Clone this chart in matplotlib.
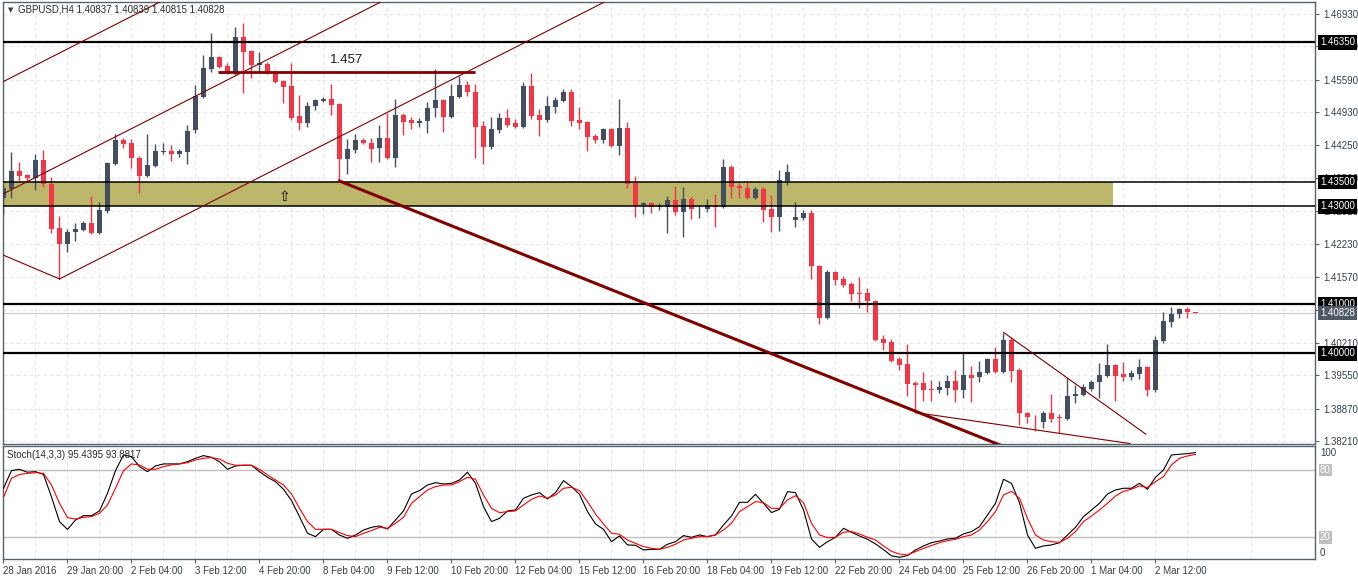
import matplotlib
matplotlib.use('Agg')
import matplotlib.pyplot as plt
import matplotlib.transforms as mtransforms
import numpy as np

plt.rcParams['font.family'] = ['Liberation Sans', 'DejaVu Sans']

# GBPUSD H4 candles, 28 Jan 2016 12:00 .. 2 Mar 2016
opens = [1.4317, 1.4336, 1.4372, 1.4364, 1.4358, 1.4395, 1.4346, 1.4256, 1.4223, 1.4248,
         1.4252, 1.4266, 1.4246, 1.4291, 1.4387, 1.4436, 1.4430, 1.4399, 1.4362, 1.4383,
         1.4412, 1.4413, 1.4407, 1.4411, 1.4456, 1.4524, 1.4581, 1.4605, 1.4587, 1.4573,
         1.4646, 1.4617, 1.4589, 1.4591, 1.4575, 1.4556, 1.4546, 1.4485, 1.4470, 1.4505,
         1.4515, 1.4519, 1.4509, 1.4397, 1.4415, 1.4436, 1.4430, 1.4419, 1.4440, 1.4399,
         1.4487, 1.4477, 1.4470, 1.4475, 1.4501, 1.4517, 1.4483, 1.4524, 1.4548, 1.4534,
         1.4464, 1.4421, 1.4456, 1.4481, 1.4470, 1.4462, 1.4546, 1.4487, 1.4477, 1.4503,
         1.4515, 1.4534, 1.4477, 1.4472, 1.4444, 1.4436, 1.4458, 1.4424, 1.4460, 1.4348,
         1.4303, 1.4307, 1.4299, 1.4299, 1.4313, 1.4289, 1.4315, 1.4294, 1.4295, 1.4303,
         1.4299, 1.4381, 1.4342, 1.4338, 1.4317, 1.4336, 1.4295, 1.4278, 1.4352, 1.4272,
         1.4276, 1.4287, 1.4178, 1.4072, 1.4166, 1.4152, 1.4142, 1.4123, 1.4123, 1.4107,
         1.4029, 1.4023, 1.3988, 1.3978, 1.3939, 1.3939, 1.3927, 1.3925, 1.3929, 1.3944,
         1.3925, 1.3956, 1.3952, 1.3960, 1.3988, 1.3962, 1.4027, 1.3966, 1.3878, 1.3860,
         1.3860, 1.3878, 1.3870, 1.3866, 1.3913, 1.3915, 1.3927, 1.3942, 1.3954, 1.3976,
         1.3958, 1.3952, 1.3958, 1.3972, 1.3925, 1.4025, 1.4064, 1.4080, 1.4091, 1.40837]
highs = [1.4344, 1.4411, 1.4391, 1.4366, 1.4407, 1.4415, 1.4360, 1.4280, 1.4254, 1.4266,
         1.4270, 1.4321, 1.4309, 1.4391, 1.4448, 1.4440, 1.4438, 1.4403, 1.4448, 1.4428,
         1.4430, 1.4426, 1.4417, 1.4466, 1.4548, 1.4609, 1.4654, 1.4607, 1.4593, 1.4666,
         1.4675, 1.4620, 1.4615, 1.4595, 1.4579, 1.4558, 1.4593, 1.4528, 1.4513, 1.4519,
         1.4524, 1.4550, 1.4511, 1.4438, 1.4448, 1.4440, 1.4440, 1.4466, 1.4491, 1.4519,
         1.4491, 1.4483, 1.4481, 1.4513, 1.4581, 1.4519, 1.4550, 1.4566, 1.4556, 1.4550,
         1.4475, 1.4483, 1.4491, 1.4499, 1.4479, 1.4554, 1.4573, 1.4499, 1.4526, 1.4524,
         1.4540, 1.4540, 1.4503, 1.4475, 1.4448, 1.4460, 1.4460, 1.4519, 1.4472, 1.4362,
         1.4309, 1.4309, 1.4307, 1.4321, 1.4342, 1.4340, 1.4319, 1.4303, 1.4315, 1.4325,
         1.4397, 1.4385, 1.4348, 1.4350, 1.4340, 1.4340, 1.4323, 1.4374, 1.4387, 1.4309,
         1.4293, 1.4293, 1.4180, 1.4170, 1.4168, 1.4158, 1.4146, 1.4156, 1.4134, 1.4109,
         1.4037, 1.4029, 1.3993, 1.4019, 1.3944, 1.3962, 1.3946, 1.3944, 1.3956, 1.3966,
         1.4001, 1.3974, 1.3984, 1.3991, 1.4013, 1.4042, 1.4033, 1.3970, 1.3880, 1.3874,
         1.3882, 1.3917, 1.3876, 1.3950, 1.3935, 1.3937, 1.3946, 1.3980, 1.4019, 1.3978,
         1.3982, 1.3966, 1.3989, 1.3974, 1.4036, 1.4084, 1.4095, 1.4093, 1.4095, 1.40839]
lows = [1.4283, 1.4317, 1.4352, 1.4352, 1.4334, 1.4340, 1.4246, 1.4152, 1.4207, 1.4229,
        1.4250, 1.4244, 1.4244, 1.4287, 1.4385, 1.4419, 1.4379, 1.4328, 1.4360, 1.4381,
        1.4407, 1.4393, 1.4401, 1.4387, 1.4450, 1.4522, 1.4575, 1.4583, 1.4571, 1.4568,
        1.4532, 1.4562, 1.4575, 1.4571, 1.4552, 1.4511, 1.4477, 1.4456, 1.4462, 1.4497,
        1.4513, 1.4487, 1.4352, 1.4366, 1.4409, 1.4428, 1.4391, 1.4391, 1.4397, 1.4381,
        1.4446, 1.4458, 1.4462, 1.4450, 1.4483, 1.4452, 1.4481, 1.4522, 1.4526, 1.4399,
        1.4387, 1.4417, 1.4450, 1.4462, 1.4460, 1.4460, 1.4479, 1.4444, 1.4472, 1.4491,
        1.4513, 1.4464, 1.4458, 1.4413, 1.4430, 1.4430, 1.4421, 1.4405, 1.4338, 1.4278,
        1.4285, 1.4287, 1.4293, 1.4246, 1.4283, 1.4238, 1.4274, 1.4276, 1.4289, 1.4258,
        1.4297, 1.4317, 1.4317, 1.4315, 1.4315, 1.4268, 1.4248, 1.4250, 1.4344, 1.4258,
        1.4272, 1.4152, 1.4060, 1.4070, 1.4140, 1.4136, 1.4107, 1.4093, 1.4085, 1.4025,
        1.4007, 1.3982, 1.3966, 1.3913, 1.3878, 1.3903, 1.3903, 1.3919, 1.3915, 1.3901,
        1.3909, 1.3901, 1.3942, 1.3958, 1.3960, 1.3960, 1.3942, 1.3854, 1.3858, 1.3842,
        1.3848, 1.3860, 1.3837, 1.3864, 1.3899, 1.3913, 1.3923, 1.3909, 1.3952, 1.3903,
        1.3944, 1.3946, 1.3948, 1.3913, 1.3921, 1.4021, 1.4054, 1.4072, 1.4072, 1.40815]
closes = [1.4338, 1.4372, 1.4362, 1.4358, 1.4395, 1.4346, 1.4254, 1.4223, 1.4248, 1.4254,
          1.4266, 1.4246, 1.4293, 1.4389, 1.4436, 1.4428, 1.4399, 1.4362, 1.4385, 1.4413,
          1.4413, 1.4407, 1.4413, 1.4454, 1.4526, 1.4583, 1.4605, 1.4585, 1.4573, 1.4646,
          1.4615, 1.4589, 1.4593, 1.4573, 1.4554, 1.4544, 1.4481, 1.4470, 1.4505, 1.4517,
          1.4519, 1.4507, 1.4397, 1.4417, 1.4436, 1.4430, 1.4417, 1.4440, 1.4399, 1.4487,
          1.4472, 1.4470, 1.4475, 1.4501, 1.4517, 1.4483, 1.4526, 1.4548, 1.4534, 1.4462,
          1.4421, 1.4458, 1.4481, 1.4466, 1.4462, 1.4546, 1.4485, 1.4477, 1.4505, 1.4517,
          1.4534, 1.4475, 1.4470, 1.4442, 1.4436, 1.4458, 1.4424, 1.4460, 1.4346, 1.4303,
          1.4307, 1.4299, 1.4301, 1.4313, 1.4289, 1.4315, 1.4295, 1.4295, 1.4303, 1.4299,
          1.4381, 1.4340, 1.4338, 1.4317, 1.4336, 1.4293, 1.4278, 1.4354, 1.4370, 1.4278,
          1.4287, 1.4178, 1.4072, 1.4166, 1.4150, 1.4140, 1.4121, 1.4122, 1.4107, 1.4027,
          1.4021, 1.3984, 1.3976, 1.3937, 1.3935, 1.3925, 1.3925, 1.3931, 1.3944, 1.3925,
          1.3956, 1.3950, 1.3962, 1.3988, 1.3962, 1.4027, 1.3964, 1.3878, 1.3870, 1.3859,
          1.3878, 1.3866, 1.3868, 1.3913, 1.3917, 1.3931, 1.3942, 1.3956, 1.3976, 1.3954,
          1.3952, 1.3960, 1.3972, 1.3925, 1.4027, 1.4066, 1.4080, 1.4091, 1.4084, 1.40828]

# Stochastic(14,3,3): main (%K) and signal (%D)
stoch_k = [63.7, 79.4, 80.6, 78.0, 78.5, 76.0, 56.0, 34.0, 27.0, 35.4,
           39.3, 39.3, 43.5, 59.2, 79.4, 93.4, 91.9, 83.0, 78.5, 83.6,
           85.4, 85.4, 85.4, 87.4, 90.4, 92.8, 91.3, 87.4, 80.6, 83.6,
           84.2, 84.2, 78.5, 73.5, 69.6, 62.8, 52.7, 38.4, 23.6, 20.6,
           27.1, 27.1, 22.0, 19.1, 22.0, 26.5, 28.9, 30.1, 27.4, 35.4,
           43.5, 58.6, 61.6, 66.6, 68.7, 67.5, 68.1, 71.1, 78.0, 68.1,
           47.3, 34.0, 36.9, 43.5, 44.4, 54.8, 57.7, 59.8, 54.2, 59.8,
           70.5, 65.2, 58.3, 42.9, 31.9, 27.1, 16.1, 21.2, 13.2, 12.9,
           8.7, 9.3, 9.3, 13.8, 16.1, 21.5, 20.0, 22.1, 20.6, 22.1,
           31.0, 39.0, 51.2, 51.2, 58.3, 50.3, 42.0, 45.0, 60.7, 59.8,
           44.4, 18.5, 11.1, 16.1, 20.0, 28.0, 24.5, 21.2, 18.2, 14.1,
           9.0, 3.5, 2.2, 3.7, 8.7, 12.3, 15.2, 16.7, 18.5, 19.1,
           23.0, 25.1, 29.5, 39.9, 50.3, 71.7, 68.1, 50.9, 22.1, 10.2,
           12.3, 13.2, 15.2, 22.1, 28.9, 38.4, 44.4, 50.3, 58.6, 62.2,
           63.7, 63.7, 68.1, 62.8, 73.5, 80.0, 93.4, 94.0, 94.6, 95.44]
stoch_d = [55.7, 72.6, 76.0, 77.0, 77.6, 77.0, 66.6, 50.3, 37.5, 36.3,
           37.8, 38.4, 41.4, 48.8, 63.7, 79.4, 85.4, 84.5, 80.6, 80.6,
           83.0, 84.5, 85.4, 86.5, 88.9, 90.4, 91.0, 89.8, 86.0, 84.2,
           84.2, 84.2, 80.6, 75.6, 71.1, 66.6, 58.6, 45.8, 34.0, 27.1,
           27.1, 27.1, 24.2, 21.5, 20.6, 23.6, 26.0, 28.9, 28.0, 32.5,
           37.8, 50.3, 56.2, 62.2, 65.2, 66.6, 66.6, 69.6, 73.5, 71.7,
           57.7, 45.8, 42.0, 42.9, 43.5, 48.8, 53.9, 56.8, 54.8, 57.7,
           63.7, 64.6, 61.6, 51.8, 40.8, 31.9, 23.6, 22.7, 17.6, 14.7,
           11.7, 10.2, 9.3, 11.1, 13.8, 17.6, 19.1, 20.6, 20.6, 22.1,
           26.5, 32.5, 42.9, 47.3, 51.8, 50.9, 45.8, 45.8, 53.3, 57.1,
           50.9, 32.5, 22.1, 19.7, 20.0, 24.5, 25.1, 23.0, 20.0, 17.6,
           12.3, 7.5, 5.1, 4.3, 7.2, 10.2, 12.6, 15.2, 17.0, 18.2,
           20.6, 22.1, 26.5, 34.0, 42.9, 57.7, 61.0, 54.8, 36.9, 22.1,
           17.6, 16.1, 15.5, 19.1, 25.1, 34.0, 39.0, 44.4, 50.3, 56.8,
           61.0, 62.8, 65.8, 64.3, 69.6, 74.1, 84.5, 90.4, 92.5, 93.88]

date_labels = ['28 Jan 2016', '29 Jan 20:00', '2 Feb 04:00', '3 Feb 12:00', '4 Feb 20:00',
               '8 Feb 04:00', '9 Feb 12:00', '10 Feb 20:00', '12 Feb 04:00', '15 Feb 12:00',
               '16 Feb 20:00', '18 Feb 04:00', '19 Feb 12:00', '22 Feb 20:00', '24 Feb 04:00',
               '25 Feb 12:00', '26 Feb 20:00', '1 Mar 04:00', '2 Mar 12:00']
price_ticks = [1.46930, 1.46270, 1.45590, 1.44930, 1.44250, 1.43590, 1.42910,
               1.42230, 1.41570, 1.40890, 1.40210, 1.39550, 1.38870, 1.38210]
hidden_ticks = [1.40890]   # fully covered by the price boxes on the scale

# drawn objects (bar index, price)
levels = [1.4635, 1.4100, 1.4000]
zone = [1.4300, 1.4350]
zone_end = 138.7
bid = 1.40828
channel = [[(-0.5, 1.4551), (25, 1.4763)],
           [(-0.5, 1.4322), (50, 1.4741)],
           [(7, 1.4152), (80, 1.4758)],
           [(-0.5, 1.4204), (7, 1.4152)]]
top_line = [(26.8, 1.4575), (58.9, 1.4575)]
down_line = [(42, 1.4352), (130, 1.37774)]
wedge = [[(125, 1.4043), (142.8, 1.3835)],
         [(114.1, 1.3879), (140.8, 1.3816)]]

DARK = '#434F5E'
RED = '#F23645'
LINE_RED = '#800000'
AXC = '#56626E'
TXT = '#33404D'

W, H = 1358, 581
fig = plt.figure(figsize=(W / 100, H / 100), dpi=100)
ax = fig.add_axes([3 / W, 1 - 444 / H, 1312 / W, 442 / H])
ax2 = fig.add_axes([3 / W, 1 - 559 / H, 1312 / W, 113 / H])

x = np.arange(len(opens))
o, h, l, c = map(np.array, (opens, highs, lows, closes))
col = np.where(c >= o, DARK, RED)

xmin, xmax = -0.0625, 163.94
ax.set_xlim(xmin, xmax)
ax.set_ylim(1.38150, 1.47175)

# zone + levels
ax.fill_between([xmin, zone_end], zone[0], zone[1], color='#BDB76B', lw=0, zorder=1)
for z in zone:
    ax.axhline(z, color='black', lw=1.1, zorder=4)
for lv in levels:
    ax.axhline(lv, color='black', lw=1.6, zorder=4)
ax.axhline(bid, color='#C8C8C8', lw=0.8, zorder=1.5)

# candles
ax.vlines(x, l, h, colors=col, lw=1, zorder=3)
ax.bar(x, np.maximum(np.abs(c - o), 0.00014), bottom=np.minimum(o, c), width=0.62,
       color=col, lw=0, zorder=3)

# trend lines
for seg in channel:
    ax.plot(*zip(*seg), color=LINE_RED, lw=0.8, zorder=4)
for seg in wedge:
    ax.plot(*zip(*seg), color=LINE_RED, lw=0.8, zorder=4)
ax.plot(*zip(*top_line), color=LINE_RED, lw=2.0, zorder=4, solid_capstyle='butt')
ax.plot(*zip(*down_line), color=LINE_RED, lw=2.2, zorder=4)
ax.text((top_line[0][0] + top_line[1][0]) / 2, 1.4599, '1.457', ha='center', va='center',
        fontsize=9.5, color='#1A1A33', zorder=5)
ax.text(35.1, 1.4320, '\u21e7', ha='center', va='center', fontsize=10, color='black',
        family='DejaVu Sans', zorder=5)

# grid / axes styling
ax.set_xticks(np.arange(0, 164, 4))
ax.tick_params(axis='x', length=0, labelbottom=False)
ax.yaxis.tick_right()
ax.set_yticks(price_ticks)
ax.set_yticklabels(['' if v in hidden_ticks else '%.5f' % v for v in price_ticks])
ax.tick_params(axis='y', length=3, width=0.8, color=AXC, labelsize=7, labelcolor=TXT, pad=3)
ax.grid(True, ls=(0, (3, 3)), color='#E6E6E6', lw=0.8, zorder=0)
ax.set_axisbelow(True)
for s in ax.spines.values():
    s.set_color(AXC)
    s.set_linewidth(1)

# price boxes on the scale
tr = mtransforms.blended_transform_factory(ax.transAxes, ax.transData)
xb = (1320 - 3) / 1312
for lv in [1.4635, 1.4350, 1.4300, 1.4100, 1.4000]:
    ax.text(xb, lv, '%.5f' % lv, transform=tr, ha='left', va='center', fontsize=7,
            color='white', zorder=6, clip_on=False,
            bbox=dict(boxstyle='square,pad=0.22', fc='black', ec='none'))
ax.text(xb, bid - 0.0001, '%.5f' % bid, transform=tr, ha='left', va='center', fontsize=7,
        color='white', zorder=6, clip_on=False,
        bbox=dict(boxstyle='square,pad=0.22', fc='#4E5A66', ec='none'))

fig.text(8 / W, 1 - 10 / H, '\u25bc', fontsize=5, color='#404040', va='center',
         family='DejaVu Sans')
fig.text(18 / W, 1 - 10 / H, 'GBPUSD,H4 1.40837 1.40839 1.40815 1.40828', fontsize=7,
         color='#2A2A2A', va='center')

# stochastic panel
ax2.set_xlim(xmin, xmax)
ax2.set_ylim(0.66, 101.37)
ax2.axhline(80, color='#C0C0C0', lw=1, zorder=1)
ax2.axhline(20, color='#C0C0C0', lw=1, zorder=1)
ax2.plot(x, stoch_k, color='black', lw=0.8, zorder=3)
ax2.plot(x, stoch_d, color='#FF0000', lw=0.8, zorder=4)
ax2.set_xticks(np.arange(0, 8 * len(date_labels), 8))
ax2.set_xticklabels(date_labels)
for t in ax2.get_xticklabels():
    t.set_ha('left')
ax2.set_xticks(np.arange(4, 164, 8), minor=True)
ax2.tick_params(axis='x', which='major', length=3, width=0.8, color=AXC, labelsize=7,
                labelcolor=TXT, pad=2)
ax2.tick_params(axis='x', which='minor', length=0)
ax2.set_yticks([])
ax2.grid(True, axis='x', which='both', ls=(0, (3, 3)), color='#E6E6E6', lw=0.8, zorder=0)
ax2.set_axisbelow(True)
for s in ax2.spines.values():
    s.set_color(AXC)
    s.set_linewidth(1)
ax2.text(4 / 1312, 1 - 9 / 113, 'Stoch(14,3,3) 95.4395 93.8817', transform=ax2.transAxes,
         fontsize=7, color='#2A2A2A', va='center')
tr2 = mtransforms.blended_transform_factory(ax2.transAxes, ax2.transData)
ax2.text(xb, 95, '100', transform=tr2, ha='left', va='center', fontsize=7, color=TXT,
         clip_on=False)
ax2.text(xb, 6, '0', transform=tr2, ha='left', va='center', fontsize=7, color=TXT,
         clip_on=False)
for lv in [80, 20]:
    ax2.text(xb, lv, str(lv), transform=tr2, ha='left', va='center', fontsize=7,
             color='white', clip_on=False,
             bbox=dict(boxstyle='square,pad=0.15', fc='#C0C0C0', ec='none'))

fig.savefig('out.png', dpi=100, facecolor='white')
